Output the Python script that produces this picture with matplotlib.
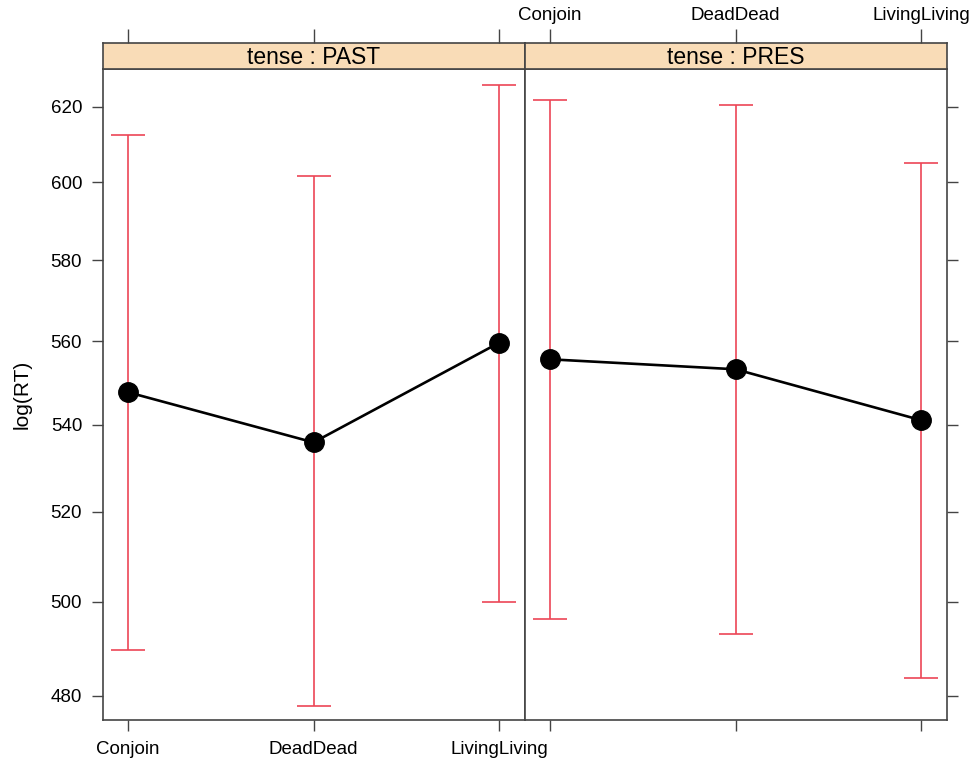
import numpy as np
import matplotlib
matplotlib.use("Agg")
import matplotlib.pyplot as plt
from matplotlib.ticker import FixedLocator, NullLocator, NullFormatter

plt.rcParams['font.family'] = ['Liberation Sans', 'DejaVu Sans']

# effect estimates with confidence limits, RT scale
categories = ["Conjoin", "DeadDead", "LivingLiving"]
tenses = ["PAST", "PRES"]
fit_past = [547.7, 535.9, 559.6]
lower_past = [489.7, 477.9, 500.0]
upper_past = [612.6, 601.6, 625.9]
fit_pres = [555.6, 553.2, 541.1]
lower_pres = [496.4, 493.0, 483.7]
upper_pres = [621.8, 620.5, 605.2]
y_ticks = [480, 500, 520, 540, 560, 580, 600, 620]

fits = [fit_past, fit_pres]
lowers = [lower_past, lower_pres]
uppers = [upper_past, upper_pres]

W, H = 972, 760
fig = plt.figure(figsize=(W / 100, H / 100), dpi=100)

axis_col = "#444444"
strip_col = "#f9dcb7"
bar_col = "#ec4656"

x = np.arange(1, len(categories) + 1)
lefts = [103, 525]
panel_w = 422
top_px, strip_top, bottom_px = 69, 43, 720

for i, tense in enumerate(tenses):
    ax = fig.add_axes([lefts[i] / W, 1 - bottom_px / H, panel_w / W, (bottom_px - top_px) / H])
    st = fig.add_axes([lefts[i] / W, 1 - top_px / H, panel_w / W, (top_px - strip_top) / H])

    lo = np.array(lowers[i])
    hi = np.array(uppers[i])
    f = np.array(fits[i])
    ax.errorbar(x, f, yerr=[f - lo, hi - f], fmt="none", ecolor=bar_col,
                elinewidth=1.2, capsize=12.5, capthick=1.2, zorder=2)
    ax.plot(x, f, color="black", lw=1.9, marker="o", ms=14, zorder=3)

    ax.set_yscale("log")
    ax.set_ylim(475.0, 630.3)
    ax.set_xlim(0.865, 3.14)
    ax.yaxis.set_major_locator(FixedLocator(y_ticks))
    ax.yaxis.set_minor_locator(NullLocator())
    ax.yaxis.set_minor_formatter(NullFormatter())
    ax.set_xticks(x)
    ax.set_xticklabels(categories)

    for s in ax.spines.values():
        s.set_color(axis_col)
        s.set_linewidth(1.2)
    ax.tick_params(axis="both", direction="out", length=8, width=1.0,
                   color=axis_col, labelsize=13.5, pad=7)

    if i == 0:
        ax.set_yticklabels([str(t) for t in y_ticks])
        ax.tick_params(axis="y", left=True, right=False, labelleft=True)
        ax.tick_params(axis="x", bottom=True, labelbottom=True)
        ax.set_ylabel("log(RT)", fontsize=15, labelpad=14)
    else:
        ax.tick_params(axis="y", left=False, right=True, labelleft=False, labelright=False)
        ax.tick_params(axis="x", bottom=True, labelbottom=False)

    # strip with the panel title and top ticks
    st.set_facecolor(strip_col)
    st.set_xlim(ax.get_xlim())
    st.set_xticks(x)
    st.set_xticklabels(categories)
    st.set_yticks([])
    for s in st.spines.values():
        s.set_color(axis_col)
        s.set_linewidth(1.2)
    st.tick_params(axis="x", bottom=False, labelbottom=False, top=True,
                   labeltop=(i == 1), direction="out", length=10, width=1.0,
                   color=axis_col, labelsize=13.5, pad=4)
    st.text(0.5, 0.45, "tense : " + tense, transform=st.transAxes,
            ha="center", va="center", fontsize=16.5)

fig.savefig("out.png", dpi=100)
